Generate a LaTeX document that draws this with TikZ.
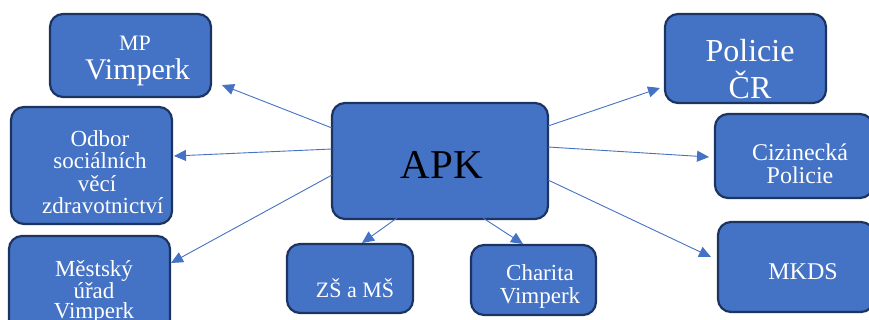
\documentclass[tikz,border=0pt]{standalone}
\usepackage{fontspec}
\setmainfont{Liberation Serif}
\usetikzlibrary{arrows.meta}
\definecolor{boxfill}{HTML}{4472C4}
\definecolor{boxline}{HTML}{1C3461}
\definecolor{arrowc}{HTML}{4472C4}
\newcommand{\fs}[2]{\fontsize{#1}{#2}\selectfont}
\tikzset{
  box/.style={draw=boxline, fill=boxfill, line width=2.2pt, rounded corners=13pt, inner sep=0pt},
  lbl/.style={text=white, align=center, inner sep=0pt},
  conn/.style={draw=arrowc, line width=0.9pt, -{Triangle[length=12pt,width=11pt]}}
}
\begin{document}
\begin{tikzpicture}[x=1pt,y=-1pt]
\useasboundingbox (0,0) rectangle (869,320);
\clip (0,0) rectangle (869,320);
% boxes
\node[box, minimum width=161pt, minimum height=83pt] (mp) at (130.5,55.5) {};
\node[box, minimum width=161pt, minimum height=117pt] (odbor) at (91.5,165.5) {};
\node[box, minimum width=161pt, minimum height=100pt] (mu) at (89.5,286) {};
\node[box, minimum width=216pt, minimum height=116pt] (apk) at (440,161) {};
\node[box, minimum width=126pt, minimum height=69pt] (zs) at (350,278.5) {};
\node[box, minimum width=125pt, minimum height=70pt] (charita) at (533.5,280) {};
\node[box, minimum width=161pt, minimum height=89pt] (pcr) at (745.5,58.5) {};
\node[box, minimum width=158pt, minimum height=84pt] (ciz) at (794,156) {};
\node[box, minimum width=156pt, minimum height=90pt] (mkds) at (796,267) {};
% labels
\node[lbl, font=\fs{22}{29}] (tmp) at (135,61) {MP\\\fs{30}{29}\,Vimperk};
\node[lbl, font=\fs{23}{22.3}] (todbor) at (100,172) {Odbor\\sociálních\\věcí\ \ \ \\\ zdravotnictví};
\node[lbl, font=\fs{23}{20}] (tmu) at (94,292) {Městský\\úřad\\Vimperk};
\node[lbl, text=black, font=\fs{41}{41}] (tapk) at (442,165) {APK};
\node[lbl, font=\fs{22}{22}] (tzs) at (355,288) {ZŠ a MŠ};
\node[lbl, font=\fs{23}{23}] (tcharita) at (540,286) {Charita\\Vimperk};
\node[lbl, font=\fs{32}{37}] (tpcr) at (750,69) {Policie\\ČR};
\node[lbl, font=\fs{24}{23}] (tciz) at (800,164) {Cizinecká\\Policie};
\node[lbl, font=\fs{24}{24}] (tmkds) at (803,272) {MKDS};
% connectors
\coordinate (a1) at (332,128);
\coordinate (a2) at (332,149);
\coordinate (a3) at (332,175);
\coordinate (a4) at (397,218);
\coordinate (a5) at (483,218);
\coordinate (a6) at (548,126);
\coordinate (a7) at (548,147);
\coordinate (a8) at (548,180);
\coordinate (e1) at (222,85);
\coordinate (e2) at (174,156);
\coordinate (e3) at (171,263);
\coordinate (e4) at (362,243);
\coordinate (e5) at (523,244);
\coordinate (e6) at (660,88);
\coordinate (e7) at (709,157);
\coordinate (e8) at (711,257);
\draw[conn] (a1) -- (e1);
\draw[conn] (a2) -- (e2);
\draw[conn] (a3) -- (e3);
\draw[conn] (a4) -- (e4);
\draw[conn] (a5) -- (e5);
\draw[conn] (a6) -- (e6);
\draw[conn] (a7) -- (e7);
\draw[conn] (a8) -- (e8);
\end{tikzpicture}
\end{document}
